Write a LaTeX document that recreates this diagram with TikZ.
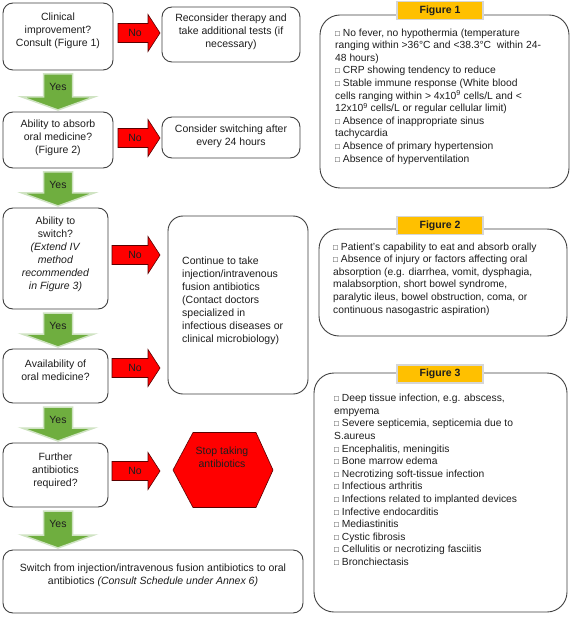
\documentclass[tikz,border=0pt]{standalone}
\usepackage{fontspec}
\setmainfont{Liberation Sans}
\definecolor{boxline}{HTML}{404040}
\definecolor{ink}{HTML}{1E1E1E}
\definecolor{nored}{HTML}{FF0000}
\definecolor{noline}{HTML}{5A0000}
\definecolor{yesgreen}{HTML}{6FAE3F}
\definecolor{yesline}{HTML}{CFE3C2}
\definecolor{figfill}{HTML}{FFC000}
\definecolor{figline}{HTML}{D6D6D6}
\newcommand\chkbox{{\fontsize{8}{8}\selectfont □}}
\tikzset{
  flowbox/.style={draw=boxline, line width=0.9pt, rounded corners=10pt, fill=white, inner sep=0pt},
  bigbox/.style={flowbox, rounded corners=15pt},
  panel/.style={draw=boxline, line width=0.9pt, rounded corners=20pt, fill=white, inner sep=0pt},
  flowtext/.style={anchor=north, align=center, inner sep=0pt, text=ink, font=\fontsize{10.5}{13}\selectfont},
  paneltext/.style={anchor=north west, align=left, inner sep=0pt, text=ink, font=\fontsize{10.3}{12.6}\selectfont},
  figlabel/.style={fill=figfill, draw=figline, line width=1.8pt, minimum width=86pt, minimum height=18pt, inner sep=0pt, font=\fontsize{10.5}{12}\selectfont\bfseries, text=ink},
  noshape/.style={fill=nored, draw=noline, line width=0.6pt},
  yesshape/.style={fill=yesgreen, draw=yesline, line width=1.5pt},
  arrowlabel/.style={inner sep=0pt, text=ink, font=\fontsize{10.5}{12}\selectfont},
  pics/noarrow/.style={code={
     \path[noshape] (0,-9.5) -- ({#1-12},-9.5) -- ({#1-12},-18.5) -- (#1,0) -- ({#1-12},18.5) -- ({#1-12},9.5) -- (0,9.5) -- cycle;
     \node[arrowlabel] (-lbl) at ({#1-25},0) {No};
  }},
  pics/yesarrow/.style={code={
     \path[yesshape] (-14.5,0) -- (14.5,0) -- (14.5,{-(#1-13)}) -- (36,{-(#1-13)}) -- (0,{-#1}) -- (-36,{-(#1-13)}) -- (-14.5,{-(#1-13)}) -- cycle;
     \node[arrowlabel] (-lbl) at (0,-13) {Yes};
  }}
}
\begin{document}
\begin{tikzpicture}[x=1pt,y=1pt]
\fill[white] (0,0) rectangle (572,-617);
\useasboundingbox (0,0) rectangle (572,-617);

% ---------- flowchart boxes ----------
\node[flowbox, minimum width=110pt, minimum height=67pt] (b1) at (58,-36.5) {};
\node[flowtext] (b1t) at (58,-13) {Clinical\\improvement?\\Consult (Figure 1)};

\node[flowbox, minimum width=138pt, minimum height=55pt] (r1) at (231,-34.5) {};
\node[flowtext] (r1t) at (231,-14) {Reconsider therapy and\\take additional tests (if\\necessary)};

\node[flowbox, minimum width=110pt, minimum height=56pt] (b2) at (58,-140) {};
\node[flowtext] (b2t) at (58,-120) {Ability to absorb\\oral medicine?\\(Figure 2)};

\node[flowbox, minimum width=138pt, minimum height=41pt] (r2) at (231,-137.5) {};
\node[flowtext] (r2t) at (231,-125) {Consider switching after\\every 24 hours};

\node[flowbox, minimum width=105pt, minimum height=101pt] (b3) at (55.5,-258.5) {};
\node[flowtext] (b3t) at (55.5,-217) {Ability to\\switch?\\\textit{(Extend IV}\\\textit{method}\\\textit{recommended}\\\textit{in Figure 3)}};

\node[bigbox, minimum width=140pt, minimum height=178pt] (r3) at (238,-305) {};
\node[flowtext, anchor=north west, align=left] (r3t) at (182,-256.5) {Continue to take\\injection/intravenous\\fusion antibiotics\\(Contact doctors\\specialized in\\infectious diseases or\\clinical microbiology)};

\node[flowbox, minimum width=105pt, minimum height=54pt] (b4) at (55.5,-376) {};
\node[flowtext] (b4t) at (55.5,-360) {Availability of\\oral medicine?};

\node[flowbox, minimum width=105pt, minimum height=64pt] (b5) at (55.5,-475) {};
\node[flowtext] (b5t) at (55.5,-452.5) {Further\\antibiotics\\required?};

\path[noshape] (173,-470) -- (193,-432.5) -- (256,-432.5) -- (273,-470) -- (256,-507.5) -- (193,-507.5) -- cycle;
\node[flowtext] (hext) at (222,-447) {Stop taking\\antibiotics};

\node[flowbox, minimum width=300pt, minimum height=63pt] (b6) at (153,-581.5) {};
\node[flowtext] (b6t) at (153,-563.5) {Switch from injection/intravenous fusion antibiotics to oral\\antibiotics \textit{(Consult Schedule under Annex 6)}};

% ---------- No arrows ----------
\pic (no1) at (118,-33) {noarrow=42};
\pic (no2) at (118,-138) {noarrow=42};
\pic (no3) at (112,-255) {noarrow=48};
\pic (no4) at (112,-368) {noarrow=48};
\pic (no5) at (112,-471) {noarrow=48};

% ---------- Yes arrows ----------
\pic (yes1) at (58,-74) {yesarrow=36};
\pic (yes2) at (58,-172) {yesarrow=34};
\pic (yes3) at (58,-313) {yesarrow=34};
\pic (yes4) at (58,-407) {yesarrow=34};
\pic (yes5) at (58,-511) {yesarrow=37};

% ---------- Figure panels ----------
\node[panel, minimum width=249pt, minimum height=173pt] (f1) at (444.5,-101.5) {};
\node[figlabel] (f1l) at (440,-10.5) {Figure 1};
\node[paneltext] (f1t) at (335,-28.5) {\chkbox{} No fever, no hypothermia (temperature\\
ranging within >36°C and <38.3°C \ within 24-\\
48 hours)\\
\chkbox{} CRP showing tendency to reduce\\
\chkbox{} Stable immune response (White blood\\
cells ranging within > 4x10\textsuperscript{9} cells/L and <\\
12x10\textsuperscript{9} cells/L or regular cellular limit)\\
\chkbox{} Absence of inappropriate sinus\\
tachycardia\\
\chkbox{} Absence of primary hypertension\\
\chkbox{} Absence of hyperventilation};

\node[panel, minimum width=248pt, minimum height=107pt] (f2) at (443,-282.5) {};
\node[figlabel] (f2l) at (440,-225.5) {Figure 2};
\node[paneltext] (f2t) at (333,-242.5) {\chkbox{} Patient’s capability to eat and absorb orally\\
\chkbox{} Absence of injury or factors affecting oral\\
absorption (e.g. diarrhea, vomit, dysphagia,\\
malabsorption, short bowel syndrome,\\
paralytic ileus, bowel obstruction, coma, or\\
continuous nasogastric aspiration)};

\node[panel, minimum width=253pt, minimum height=239pt] (f3) at (440.5,-492.5) {};
\node[figlabel] (f3l) at (440,-374) {Figure 3};
\node[paneltext] (f3t) at (334,-394) {\chkbox{} Deep tissue infection, e.g. abscess,\\
empyema\\
\chkbox{} Severe septicemia, septicemia due to\\
S.aureus\\
\chkbox{} Encephalitis, meningitis\\
\chkbox{} Bone marrow edema\\
\chkbox{} Necrotizing soft-tissue infection\\
\chkbox{} Infectious arthritis\\
\chkbox{} Infections related to implanted devices\\
\chkbox{} Infective endocarditis\\
\chkbox{} Mediastinitis\\
\chkbox{} Cystic fibrosis\\
\chkbox{} Cellulitis or necrotizing fasciitis\\
\chkbox{} Bronchiectasis};
\end{tikzpicture}
\end{document}
